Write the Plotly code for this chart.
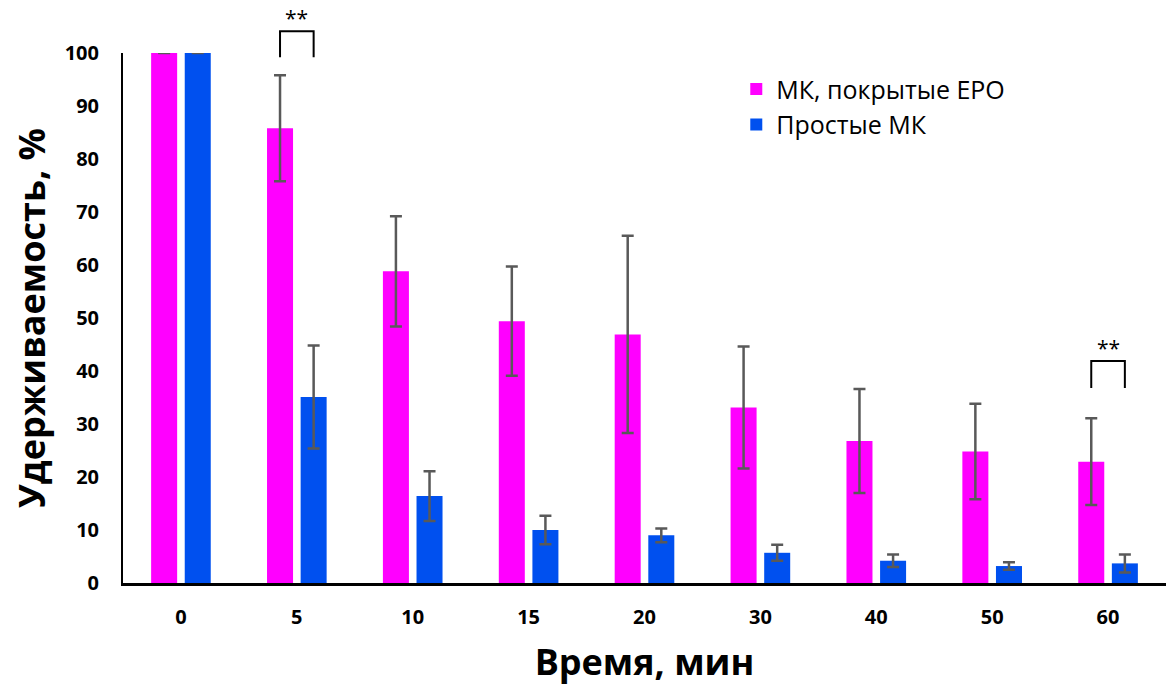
import plotly.graph_objects as go

categories = ["0", "5", "10", "15", "20", "30", "40", "50", "60"]
coated = [100, 85.8, 58.8, 49.4, 46.9, 33.1, 26.8, 24.8, 22.9]
coated_err = [0, 10.0, 10.4, 10.3, 18.6, 11.5, 9.8, 9.0, 8.2]
plain = [100, 35.1, 16.4, 10.0, 9.0, 5.7, 4.2, 3.2, 3.7]
plain_err = [0, 9.7, 4.7, 2.7, 1.3, 1.5, 1.2, 0.7, 1.7]
series_names = ["МК, покрытые EPO", "Простые МК"]
colors = ["#FF00FF", "#0050EF"]
# significance brackets: (category, leg bottom value, bracket top value, label)
sig_brackets = [("5", 99.2, 104.1, "**"), ("60", 36.8, 41.9, "**")]

YMAX = 100
FONT = "Open Sans"

fig = go.Figure()
for name, vals, errs, col in [(series_names[0], coated, coated_err, colors[0]),
                              (series_names[1], plain, plain_err, colors[1])]:
    fig.add_trace(go.Bar(
        x=categories, y=vals, name=name, marker=dict(color=col, line=dict(width=0)),
        error_y=dict(type="data", array=errs, visible=True, color="#595959",
                     thickness=2.5, width=6),
    ))

shapes = []
annotations = []
half = 0.145
for cat, lo, hi, lab in sig_brackets:
    i = categories.index(cat)
    x0, x1 = i - half, i + half
    shapes.append(dict(type="path", xref="x", yref="paper",
                       path=f"M {x0} {lo/YMAX} L {x0} {hi/YMAX} L {x1} {hi/YMAX} L {x1} {lo/YMAX}",
                       line=dict(color="black", width=2)))
    annotations.append(dict(x=i, y=hi / YMAX, xref="x", yref="paper", text=lab,
                            showarrow=False, yanchor="bottom", yshift=-3,
                            font=dict(family=FONT, size=21, color="black")))

fig.update_layout(
    width=1171, height=691,
    margin=dict(l=123, r=5, t=53, b=108),
    paper_bgcolor="white", plot_bgcolor="white",
    barmode="group", bargap=0.42, bargroupgap=0.226,
    showlegend=True,
    legend=dict(x=0.588, y=0.975, xanchor="left", yanchor="top",
                font=dict(family=FONT, size=25, color="black"),
                bgcolor="rgba(0,0,0,0)", tracegroupgap=0, itemsizing="constant"),
    shapes=shapes, annotations=annotations,
    xaxis=dict(
        type="category", showline=True, linecolor="black", linewidth=2.5,
        showgrid=False, ticks="", ticklabelstandoff=14,
        tickfont=dict(family=FONT, size=20, color="black", weight="bold"),
        title=dict(text="Время, мин", standoff=22,
                   font=dict(family=FONT, size=36, color="black", weight="bold")),
    ),
    yaxis=dict(
        range=[0, YMAX], tickvals=list(range(0, 101, 10)),
        showline=True, linecolor="black", linewidth=2,
        showgrid=False, zeroline=False, ticks="", ticklabelstandoff=18,
        tickfont=dict(family=FONT, size=20, color="black", weight="bold"),
        title=dict(text="Удерживаемость, %", standoff=8,
                   font=dict(family=FONT, size=36, color="black", weight="bold")),
    ),
)

fig.write_html("out.html")
